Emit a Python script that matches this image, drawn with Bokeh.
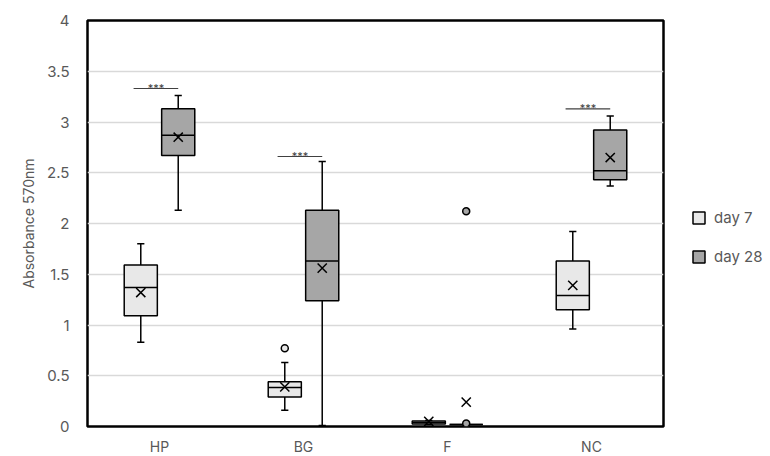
from bokeh.plotting import figure
from bokeh.models import (ColumnDataSource, FactorRange, FixedTicker, NumeralTickFormatter,
                          Legend, LegendItem, Range1d)
from bokeh.transform import dodge
from bokeh.core.properties import value
from bokeh.embed import file_html
from bokeh.resources import INLINE

categories = ["HP", "BG", "F", "NC"]

day7_lower = [0.83, 0.16, 0.02, 0.96]
day7_q1 = [1.09, 0.29, 0.025, 1.15]
day7_median = [1.37, 0.385, 0.04, 1.29]
day7_q3 = [1.59, 0.44, 0.055, 1.63]
day7_upper = [1.80, 0.63, 0.06, 1.92]
day7_mean = [1.32, 0.39, 0.05, 1.39]
day7_out_cat = ["BG"]
day7_out_val = [0.77]

day28_lower = [2.13, 0.01, 0.02, 2.37]
day28_q1 = [2.67, 1.24, 0.02, 2.43]
day28_median = [2.87, 1.63, 0.02, 2.52]
day28_q3 = [3.13, 2.13, 0.02, 2.92]
day28_upper = [3.26, 2.61, 0.02, 3.06]
day28_mean = [2.85, 1.56, 0.24, 2.65]
day28_out_cat = ["F", "F"]
day28_out_val = [2.12, 0.03]

sig_cats = ["HP", "BG", "NC"]
sig_y = [3.33, 2.66, 3.13]
sig_label = ["***", "***", "***"]

y_ticks = [0, 0.5, 1, 1.5, 2, 2.5, 3, 3.5, 4]

FONT = "Inter"
GRAY = "#595959"

p = figure(frame_width=576, frame_height=406, x_range=FactorRange(*categories), y_range=Range1d(0, 4),
           output_backend="svg", toolbar_location=None,
           min_border_left=87, min_border_right=100, min_border_top=20, min_border_bottom=30)
p.x_range.range_padding = 0
p.outline_line_color = "black"
p.outline_line_width = 2.5
p.xgrid.grid_line_color = None
p.ygrid.grid_line_color = "#d9d9d9"
p.ygrid.grid_line_width = 1.5
p.yaxis.ticker = FixedTicker(ticks=y_ticks)
p.yaxis.formatter = NumeralTickFormatter(format="0.[0]")
for ax in (p.xaxis[0], p.yaxis[0]):
    ax.axis_line_color = None
    ax.major_tick_line_color = None
    ax.minor_tick_line_color = None
    ax.major_label_text_font = FONT
    ax.major_label_text_font_size = "15px"
    ax.major_label_text_color = GRAY
p.xaxis.major_label_text_font_size = "14px"
p.yaxis.major_label_standoff = 12
p.xaxis.major_label_standoff = 5
p.yaxis.axis_label = "Absorbance 570nm"
p.yaxis.axis_label_text_font = FONT
p.yaxis.axis_label_text_font_style = "normal"
p.yaxis.axis_label_text_font_size = "14px"
p.yaxis.axis_label_text_color = GRAY
p.yaxis.axis_label_standoff = 7

BW = 0.23
CAP = 0.05
series = [
    (-0.13, "#e8e8e8", day7_lower, day7_q1, day7_median, day7_q3, day7_upper, day7_mean, day7_out_cat, day7_out_val, "day 7"),
    (0.13, "#a6a6a6", day28_lower, day28_q1, day28_median, day28_q3, day28_upper, day28_mean, day28_out_cat, day28_out_val, "day 28"),
]
items = []
for off, color, lo, q1, med, q3, hi, mean, ocat, oval, name in series:
    src = ColumnDataSource(dict(cat=categories, lo=lo, q1=q1, med=med, q3=q3, hi=hi, mean=mean))
    x = dodge("cat", off, range=p.x_range)
    xl = dodge("cat", off - BW / 2, range=p.x_range)
    xr = dodge("cat", off + BW / 2, range=p.x_range)
    cl = dodge("cat", off - CAP / 2, range=p.x_range)
    cr = dodge("cat", off + CAP / 2, range=p.x_range)
    p.segment(x0=x, y0="q3", x1=x, y1="hi", source=src, line_color="black", line_width=1.5)
    p.segment(x0=x, y0="lo", x1=x, y1="q1", source=src, line_color="black", line_width=1.5)
    p.segment(x0=cl, y0="hi", x1=cr, y1="hi", source=src, line_color="black", line_width=1.5)
    p.segment(x0=cl, y0="lo", x1=cr, y1="lo", source=src, line_color="black", line_width=1.5)
    r = p.vbar(x=x, width=BW, bottom="q1", top="q3", source=src, fill_color=color,
               line_color="black", line_width=1.5)
    items.append(LegendItem(label=name, renderers=[r]))
    p.segment(x0=xl, y0="med", x1=xr, y1="med", source=src, line_color="black", line_width=1.5)
    p.scatter(x=x, y="mean", source=src, marker="x", size=13, line_color="black", line_width=1.5)
    osrc = ColumnDataSource(dict(cat=ocat, val=oval))
    p.scatter(x=dodge("cat", off, range=p.x_range), y="val", source=osrc, marker="circle", size=7,
              fill_color=color, line_color="black", line_width=1.5)

ssrc = ColumnDataSource(dict(cat=sig_cats, y=sig_y, lab=sig_label))
p.segment(x0=dodge("cat", -0.18, range=p.x_range), y0="y", x1=dodge("cat", 0.13, range=p.x_range),
          y1="y", source=ssrc, line_color="#404040", line_width=1.2)
p.text(x=dodge("cat", -0.025, range=p.x_range), y="y", text="lab", source=ssrc,
       text_font=value(FONT), text_font_size="11px", text_color="#404040",
       text_align="center", text_baseline="alphabetic", y_offset=-1)

leg = Legend(items=items, location=(28, 160), orientation="vertical",
             padding=0, margin=0, border_line_color=None, background_fill_alpha=0,
             glyph_width=15, glyph_height=15, label_height=15, label_standoff=8, spacing=20,
             label_text_font=FONT, label_text_font_size="15px", label_text_color=GRAY)
p.add_layout(leg, "right")

open("out.html", "w").write(file_html(p, INLINE))
